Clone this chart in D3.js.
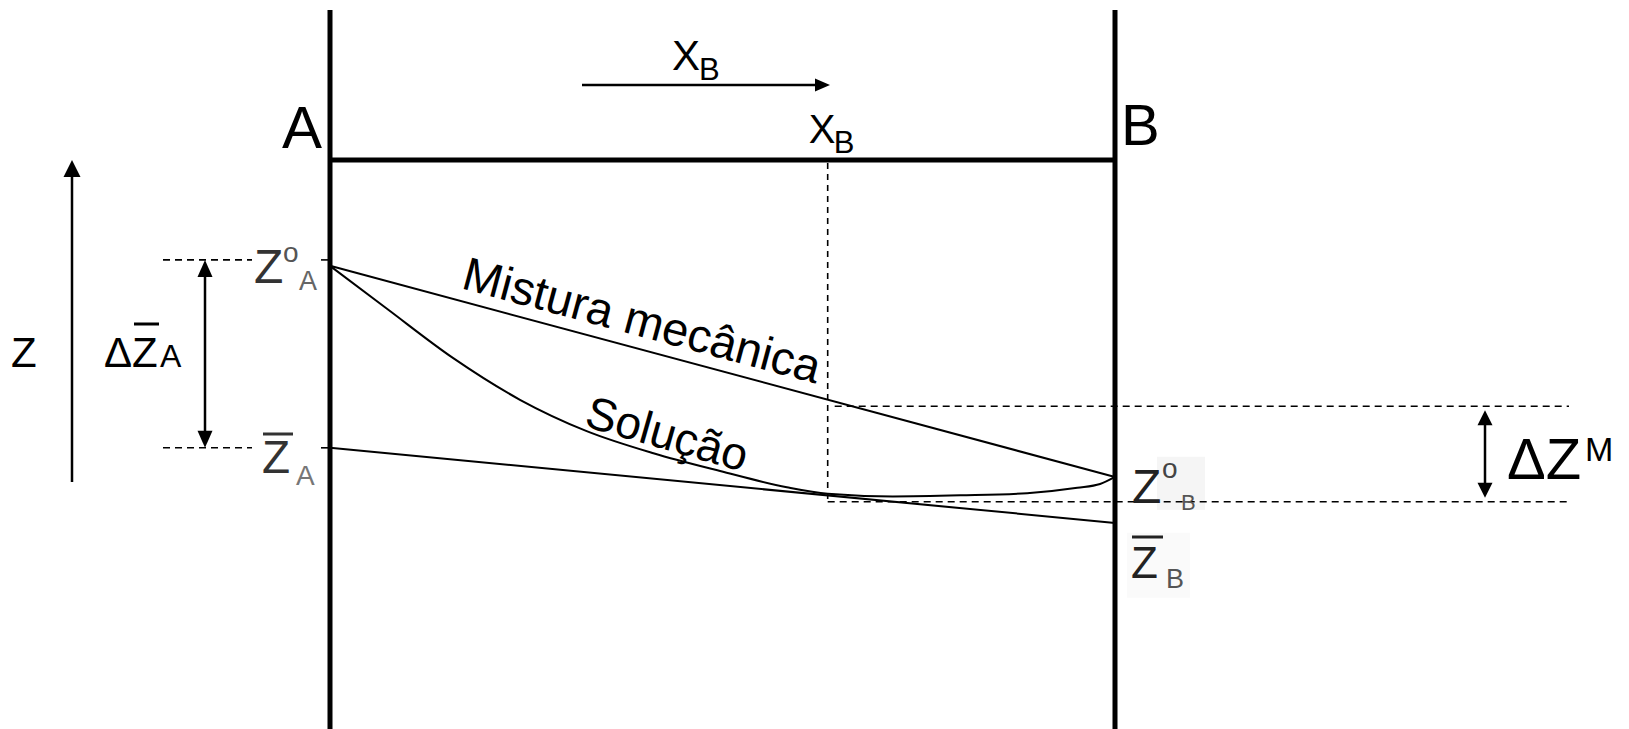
<!DOCTYPE html>
<html>
<head>
<meta charset="utf-8">
<script src="https://cdn.jsdelivr.net/npm/d3@7"></script>
<style>
  body { margin: 0; background: #fff; }
  text { font-family: "Liberation Sans", Arial, sans-serif; }
</style>
</head>
<body>
<div id="chart"></div>
<script>
const width = 1629;
const height = 729;

// X_B (mole fraction of B) and Z values
const xEnds = [0, 1];
const mixZ = [80.4, 41.3];      // Mistura mecânica: Z°A -> Z°B
const tangentZ = [46.7, 32.8];  // tangent at X_B: Z̄A -> Z̄B
const solX = [0, 0.073, 0.157, 0.242, 0.327, 0.412, 0.497, 0.582, 0.634, 0.717, 0.803, 0.888, 0.952, 0.981, 1.0];
const solZ = [80.4, 72.4, 63.3, 55.6, 49.8, 45.7, 42.4, 39.4, 38.2, 37.7, 37.9, 38.3, 39.3, 40.0, 41.3];
const xB = 0.634;
const topZ = 100;
const levelZA0 = 81.5;
const levelZAbar = 46.7;
const levelMix = 54.4;   // upper ΔZM level
const levelSol = 36.7;   // lower ΔZM level

const x = d3.scaleLinear().domain([0, 1]).range([330, 1115]);
const y = d3.scaleLinear().domain([0, 100]).range([700, 160]);

const svg = d3
  .select("#chart")
  .append("svg")
  .attr("width", width)
  .attr("height", height);

function seg(x1, y1, x2, y2, w, dash) {
  const l = svg
    .append("line")
    .attr("x1", x1)
    .attr("y1", y1)
    .attr("x2", x2)
    .attr("y2", y2)
    .attr("stroke", "#000")
    .attr("stroke-width", w);
  if (dash) l.attr("stroke-dasharray", dash);
  return l;
}

// filled arrow head with tip at (tx, ty) pointing along (dx, dy)
function head(tx, ty, dx, dy, len, w) {
  const nx = -dy, ny = dx;
  const bx = tx - dx * len, by = ty - dy * len;
  svg
    .append("polygon")
    .attr("points", [
      [tx, ty],
      [bx + (nx * w) / 2, by + (ny * w) / 2],
      [bx - (nx * w) / 2, by - (ny * w) / 2],
    ].join(" "))
    .attr("fill", "#000");
}

function label(tx, ty, str, size, color) {
  return svg
    .append("text")
    .attr("x", tx)
    .attr("y", ty)
    .attr("font-size", size)
    .attr("fill", color || "#000")
    .text(str);
}

// faint boxes left over around the pasted B labels
svg.append("rect").attr("x", x(1) + 42).attr("y", y(levelSol) - 45)
  .attr("width", 48).attr("height", 53).attr("fill", "#f5f5f5");
svg.append("rect").attr("x", x(1) + 12).attr("y", y(levelSol) + 31)
  .attr("width", 63).attr("height", 65).attr("fill", "#fafafa");

// dashed guides
seg(x(xB), y(topZ) + 3, x(xB), y(levelSol), 1.6, "6,5");
seg(x(xB) + 7, y(levelMix), 1569, y(levelMix), 1.6, "7,5");
seg(x(xB), y(levelSol), 1569, y(levelSol), 1.6, "7,5");
seg(163, y(levelZA0), 252, y(levelZA0), 1.6, "7,5");
seg(163, y(levelZAbar), 252, y(levelZAbar), 1.6, "7,5");
seg(x(0) - 9, y(levelZA0), x(0), y(levelZA0), 1.6);
seg(x(0) - 9, y(levelZAbar), x(0), y(levelZAbar), 1.6);

// mixture line, tangent line, solution curve
const straight = d3.line().x((d) => x(d[0])).y((d) => y(d[1]));
const smooth = d3.line().x((d) => x(d[0])).y((d) => y(d[1])).curve(d3.curveMonotoneX);
svg.append("path")
  .attr("d", straight(d3.zip(xEnds, mixZ)))
  .attr("fill", "none").attr("stroke", "#000").attr("stroke-width", 2);
svg.append("path")
  .attr("d", straight(d3.zip(xEnds, tangentZ)))
  .attr("fill", "none").attr("stroke", "#000").attr("stroke-width", 2);
svg.append("path")
  .attr("d", smooth(d3.zip(solX, solZ)))
  .attr("fill", "none").attr("stroke", "#000").attr("stroke-width", 2);

// frame: A and B walls, top line
seg(x(0), 10, x(0), height, 5);
seg(x(1), 10, x(1), height, 5);
seg(x(0), y(topZ), x(1), y(topZ), 5);

// Z axis arrow
seg(72, 482, 72, 175, 2.5);
head(72, 160, 0, -1, 17, 17);

// ΔZ̄A double arrow
seg(205, y(levelZA0) + 10, 205, y(levelZAbar) - 10, 2.5);
head(205, y(levelZA0), 0, -1, 17, 15);
head(205, y(levelZAbar), 0, 1, 17, 15);

// ΔZM double arrow
seg(1485, y(levelMix) + 8, 1485, y(levelSol) - 8, 2.5);
head(1485, y(levelMix) + 4, 0, -1, 15, 15);
head(1485, y(levelSol) - 4, 0, 1, 15, 15);

// X_B arrow
seg(582, 85, 818, 85, 2.5);
head(830, 85, 1, 0, 15, 13);

// texts
label(x(0) - 48, y(topZ) - 12, "A", 60);
label(x(1) + 6, y(topZ) - 15, "B", 58);

label(672, 70, "X", 42);
label(699, 80, "B", 31);
label(x(xB) - 19, 143, "X", 40);
label(x(xB) + 6, 153, "B", 31);

label(11, 367, "Z", 42);
label(104, 367, "ΔZ", 42);
seg(134, 324, 159, 324, 3);
label(160, 367, "A", 32);

label(254, 283, "Z", 48, "#333");
label(283, 262, "o", 28, "#555");
label(299, 290, "A", 27, "#666");

label(262, 473, "Z", 46, "#333");
seg(263, 434, 293, 434, 3).attr("stroke", "#333");
label(296, 485, "A", 28, "#777");

label(1132, 503, "Z", 48, "#222");
label(1162, 478, "o", 28, "#444");
label(1181, 510, "B", 22, "#555");

label(1131, 578, "Z", 44, "#222");
seg(1132, 537, 1163, 537, 3).attr("stroke", "#222");
label(1166, 588, "B", 27, "#555");

label(1507, 479, "ΔZ", 58);
label(1585, 461, "M", 34);

// curve labels, turned to follow the lines
const mixAngle = (Math.atan2(y(mixZ[1]) - y(mixZ[0]), x(1) - x(0)) * 180) / Math.PI;
svg.append("text")
  .attr("transform", `translate(460,288) rotate(${mixAngle})`)
  .attr("font-size", 47)
  .text("Mistura mecânica");

svg.append("text")
  .attr("transform", "translate(583,426) rotate(16)")
  .attr("font-size", 46)
  .text("Solução");
</script>
</body>
</html>
